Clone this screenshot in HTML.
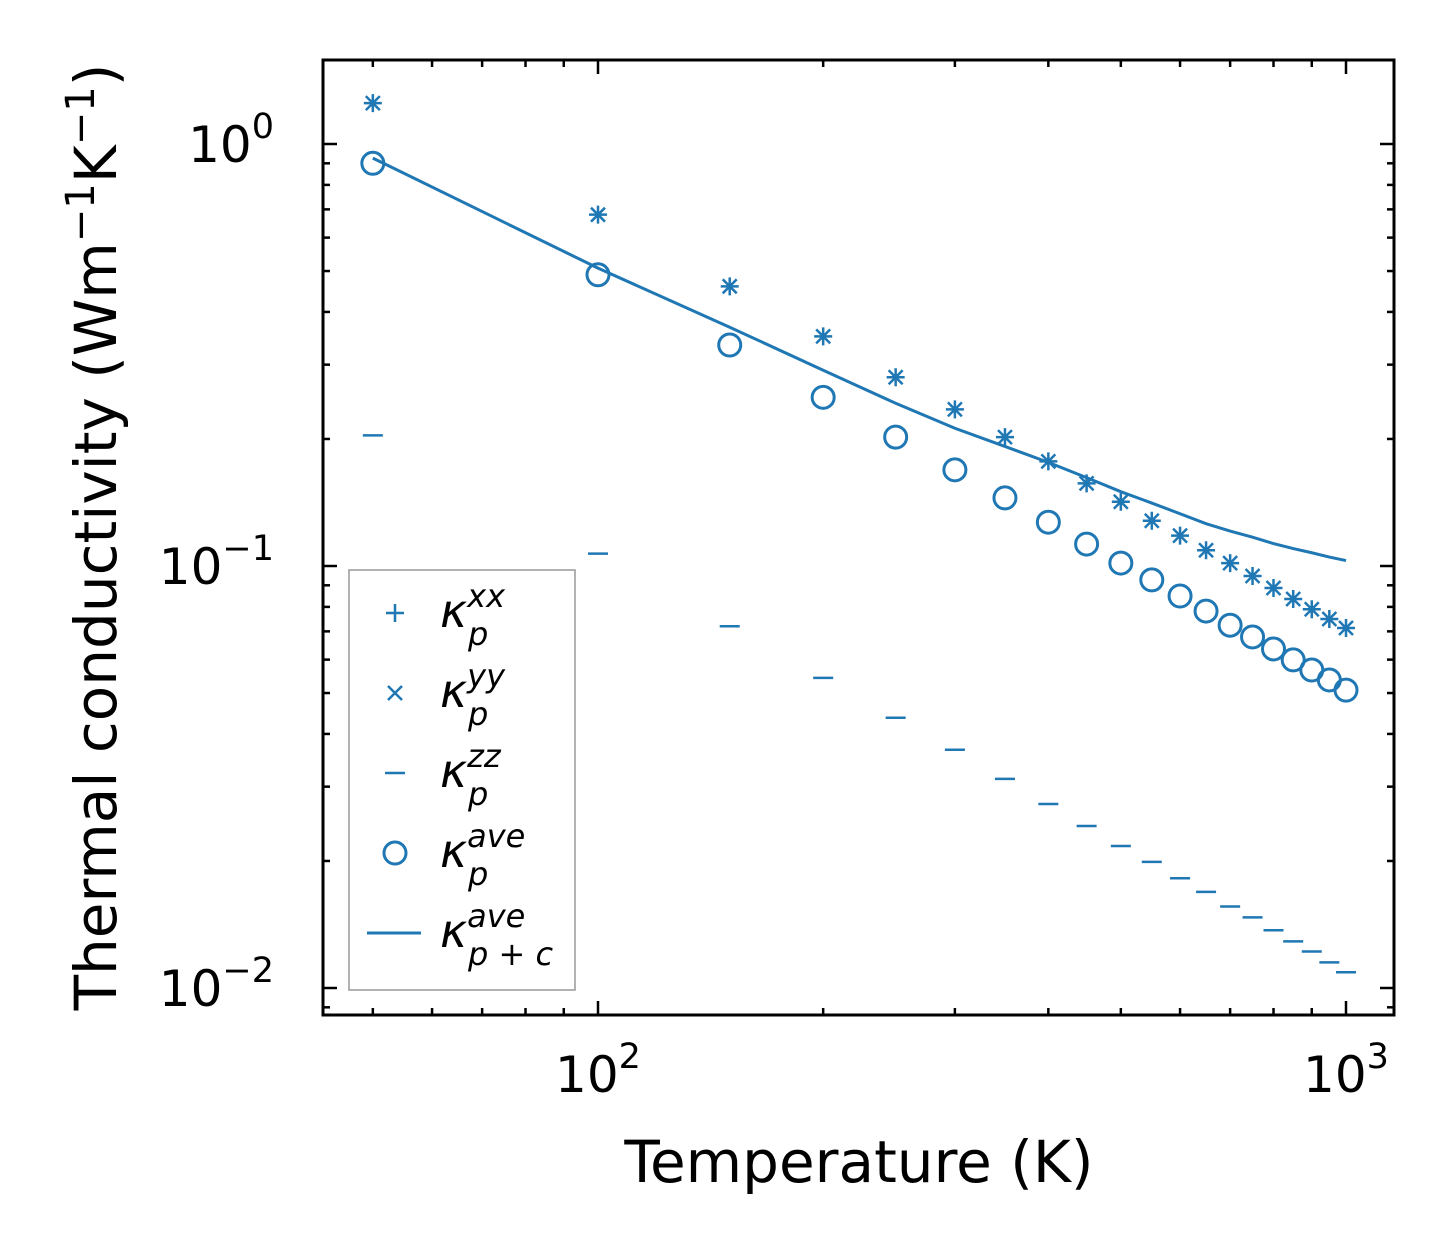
<!DOCTYPE html>
<html><head><meta charset="utf-8"><style>
html,body{margin:0;padding:0;background:#fff;}
svg{display:block;font-family:"DejaVu Sans","Liberation Sans",sans-serif;}
</style></head><body>
<svg id="chart" width="1454" height="1254" viewBox="0 0 1454 1254">
<g id="plot"></g>
</svg>
<script>
const temps=[50,100,150,200,250,300,350,400,450,500,550,600,650,700,750,800,850,900,950,1000];
const kxx=[1.25,0.68,0.46,0.35,0.28,0.235,0.202,0.177,0.157,0.142,0.128,0.118,0.109,0.1016,0.0947,0.0887,0.0835,0.079,0.0749,0.0713];
const kyy=[1.25,0.68,0.46,0.35,0.28,0.235,0.202,0.177,0.157,0.142,0.128,0.118,0.109,0.1016,0.0947,0.0887,0.0835,0.079,0.0749,0.0713];
const kzz=[0.204,0.107,0.072,0.0543,0.0437,0.0367,0.0313,0.0273,0.0242,0.0217,0.0199,0.0182,0.0169,0.0156,0.0147,0.0137,0.0129,0.0122,0.0115,0.0109];
const kave=[0.90,0.49,0.334,0.251,0.202,0.169,0.145,0.127,0.1127,0.1016,0.0927,0.0849,0.0782,0.0724,0.0679,0.0636,0.0599,0.0567,0.0537,0.0508];
const kpc=[0.926,0.508,0.368,0.291,0.243,0.212,0.192,0.176,0.162,0.150,0.141,0.133,0.126,0.121,0.117,0.113,0.110,0.1075,0.105,0.103];
const xTicks=[100,1000];
const xTickExp=["2","3"];
const yTicks=[1,0.1,0.01];
const yTickExp=["0","\u22121","\u22122"];

const NS="http://www.w3.org/2000/svg";
const g=document.getElementById('plot');
const C="#1f77b4";
const L=323,R=1394,T=60,B=1015;
function X(v){return 598+(Math.log10(v)-2)*748;}
function Y(v){return 144-Math.log10(v)*422;}
function mk(tag,attrs,parent){const e=document.createElementNS(NS,tag);for(const k in attrs)e.setAttribute(k,attrs[k]);(parent||g).appendChild(e);return e;}

let fr=mk('rect',{x:L,y:T,width:R-L,height:B-T,fill:'none',stroke:'#000','stroke-width':3});



const xt=mk('g',{});


for(let d=1;d<=3;d++){for(let m=1;m<10;m++){const v=m*Math.pow(10,d);const x=X(v);if(x<L||x>R)continue;const len=m===1?14:7;
mk('line',{x1:x,y1:B,x2:x,y2:B-len,stroke:'#000','stroke-width':2.5},xt);
mk('line',{x1:x,y1:T,x2:x,y2:T+len,stroke:'#000','stroke-width':2.5},xt);}}
xTicks.forEach((v,i)=>{const t=mk('text',{x:X(v),y:1092,'font-size':50,'text-anchor':'middle'},xt);
t.innerHTML='10<tspan dy="-24" font-size="35">'+xTickExp[i]+'</tspan>';

});
const xl=mk('text',{x:859,y:1182,'font-size':58,'text-anchor':'middle'});xl.textContent='Temperature (K)';



const yt=mk('g',{});


for(let d=-3;d<=0;d++){for(let m=1;m<10;m++){const v=m*Math.pow(10,d);const y=Y(v);if(y<T||y>B)continue;const len=m===1?14:7;
mk('line',{x1:L,y1:y,x2:L+len,y2:y,stroke:'#000','stroke-width':2.5},yt);
mk('line',{x1:R,y1:y,x2:R-len,y2:y,stroke:'#000','stroke-width':2.5},yt);}}
yTicks.forEach((v,i)=>{const t=mk('text',{x:274,y:Y(v)+18,'font-size':50,'text-anchor':'end'},yt);
t.innerHTML='10<tspan dy="-24" font-size="35">'+yTickExp[i]+'</tspan>';

});
const yl=mk('text',{transform:'translate(116,537) rotate(-90)','font-size':58,'text-anchor':'middle'});
yl.innerHTML='Thermal conductivity (Wm<tspan dy="-22" font-size="40">\u22121</tspan><tspan dy="22">K</tspan><tspan dy="-22" font-size="40">\u22121</tspan><tspan dy="22">)</tspan>';



const line=mk('polyline',{points:temps.map((t,i)=>X(t)+','+Y(kpc[i])).join(' '),fill:'none',stroke:C,'stroke-width':3});


temps.forEach((t,i)=>{
 let x=X(t),y=Y(kxx[i]);
 const p=mk('path',{d:`M${x-9} ${y}H${x+9}M${x} ${y-9}V${y+9}`,stroke:C,'stroke-width':2.5});
 
 
 y=Y(kyy[i]);
 const q=mk('path',{d:`M${x-7} ${y-7}L${x+7} ${y+7}M${x-7} ${y+7}L${x+7} ${y-7}`,stroke:C,'stroke-width':2.5});
 
 
 y=Y(kzz[i]);
 const z=mk('line',{x1:x-10,y1:y,x2:x+10,y2:y,stroke:C,'stroke-width':2.5});
 
 
 y=Y(kave[i]);
 const c=mk('circle',{cx:x,cy:y,r:11,fill:'none',stroke:C,'stroke-width':3});
 
 
});

const lg=mk('g',{});


mk('rect',{x:349,y:570,width:226,height:420,fill:'#fff',stroke:'#999','stroke-width':1.5},lg);
const entries=[['+','xx'],['x','yy'],['-','zz'],['o','ave'],['l','ave']];
entries.forEach((e,i)=>{const cy=613+i*80,cx=395;
 const eg=mk('g',{},lg);
 
 
 if(e[0]==='+')mk('path',{d:`M${cx-9} ${cy}H${cx+9}M${cx} ${cy-9}V${cy+9}`,stroke:C,'stroke-width':2.5},eg);
 if(e[0]==='x')mk('path',{d:`M${cx-7} ${cy-7}L${cx+7} ${cy+7}M${cx-7} ${cy+7}L${cx+7} ${cy-7}`,stroke:C,'stroke-width':2.5},eg);
 if(e[0]==='-')mk('line',{x1:cx-10,y1:cy,x2:cx+10,y2:cy,stroke:C,'stroke-width':2.5},eg);
 if(e[0]==='o')mk('circle',{cx:cx,cy:cy,r:11,fill:'none',stroke:C,'stroke-width':3},eg);
 if(e[0]==='l')mk('line',{x1:367,y1:cy,x2:421,y2:cy,stroke:C,'stroke-width':3},eg);
 const t=mk('text',{x:440,y:cy+14,'font-size':46,'font-style':'italic'},eg);
 t.innerHTML='\u03ba<tspan dy="-20" font-size="32">'+e[1]+'</tspan><tspan x="468" dy="38" font-size="32">'+(i===4?'p + c':'p')+'</tspan>';
});
</script>
</body></html>
